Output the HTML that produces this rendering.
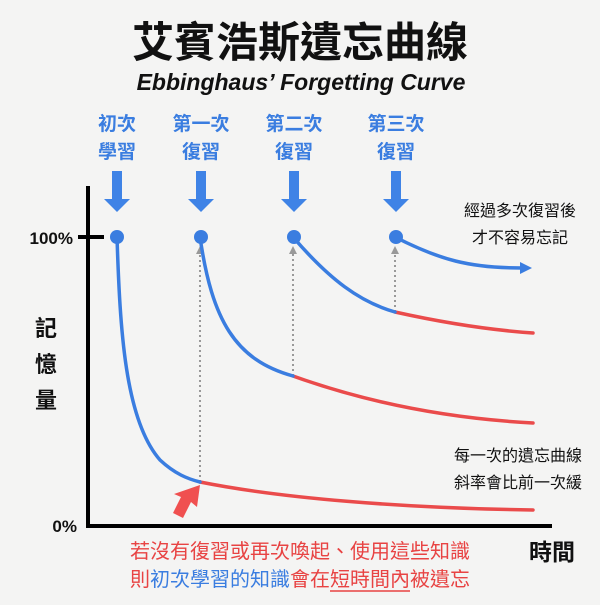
<!DOCTYPE html><html><head><meta charset="utf-8"><style>
body{margin:0;width:600px;height:600px;background:#f4f4f3;overflow:hidden;font-family:"Liberation Sans","Noto Sans CJK TC",sans-serif}
</style></head><body>
<svg width="600" height="600" xmlns="http://www.w3.org/2000/svg" font-family="Liberation Sans, Noto Sans CJK TC, sans-serif">
<rect width="600" height="600" fill="#f4f4f3"/>
<text x="300" y="57" text-anchor="middle" font-size="42" font-weight="bold" fill="#111">艾賓浩斯遺忘曲線</text>
<text x="301" y="90" text-anchor="middle" font-size="23" font-weight="bold" font-style="italic" fill="#111">Ebbinghaus’ Forgetting Curve</text>
<g fill="#3a7de0" font-size="19" font-weight="bold" text-anchor="middle">
<text x="117" y="130">初次</text><text x="117" y="158">學習</text>
<text x="201" y="130">第一次</text><text x="201" y="158">復習</text>
<text x="294" y="130">第二次</text><text x="294" y="158">復習</text>
<text x="396" y="130">第三次</text><text x="396" y="158">復習</text>
</g>
<g fill="#3f83e6">
<path d="M112 171h10v28h8l-13 13-13-13h8z"/>
<path d="M196 171h10v28h8l-13 13-13-13h8z"/>
<path d="M289 171h10v28h8l-13 13-13-13h8z"/>
<path d="M391 171h10v28h8l-13 13-13-13h8z"/>
</g>
<line x1="88" y1="186" x2="88" y2="528" stroke="#000" stroke-width="4"/>
<line x1="86" y1="526" x2="552" y2="526" stroke="#000" stroke-width="4"/>
<line x1="78" y1="237" x2="104" y2="237" stroke="#000" stroke-width="4"/>
<text x="73" y="244" text-anchor="end" font-size="17" font-weight="bold" fill="#111">100%</text>
<text x="77" y="532" text-anchor="end" font-size="17" font-weight="bold" fill="#111">0%</text>
<g font-size="22" font-weight="bold" fill="#111" text-anchor="middle"><text x="46" y="336">記</text><text x="46" y="372">憶</text><text x="46" y="408">量</text></g>
<text x="552" y="560" text-anchor="middle" font-size="23" font-weight="bold" fill="#111">時間</text>
<g stroke="#999" stroke-width="2" stroke-dasharray="2,3">
<line x1="200" y1="482" x2="200" y2="252"/><line x1="293" y1="376" x2="293" y2="252"/><line x1="395" y1="312" x2="395" y2="252"/>
</g>
<g fill="#999"><path d="M196 254l4-8 4 8z"/><path d="M289 254l4-8 4 8z"/><path d="M391 254l4-8 4 8z"/></g>
<g fill="none" stroke-width="3.5" stroke-linecap="round">
<path d="M200 482 C280 498 400 508 533 510" stroke="#ea4b4b"/>
<path d="M293 376 C360 400 440 418 533 423" stroke="#ea4b4b"/>
<path d="M395 312 C440 322 490 330 533 333" stroke="#ea4b4b"/>
<path d="M117 237 C120 330 125 420 160 460 C175 474 188 479 200 482" stroke="#3a7de0"/>
<path d="M200 237 C212 320 235 360 293 376" stroke="#3a7de0"/>
<path d="M293 237 C330 280 360 302 395 312" stroke="#3a7de0"/>
<path d="M395 237 C440 260 470 268 522 268" stroke="#3a7de0"/>
</g>
<path d="M520 262l12 6-12 6z" fill="#3a7de0"/>
<g fill="#3a7de0"><circle cx="117" cy="237" r="7"/><circle cx="201" cy="237" r="7"/><circle cx="294" cy="237" r="7"/><circle cx="396" cy="237" r="7"/></g>
<path d="M200 485l-3 22-6-5-8 16-10-5 8-16-7-3z" fill="#f05050"/>
<g font-size="16" fill="#111" text-anchor="middle">
<text x="520" y="216">經過多次復習後</text><text x="520" y="243">才不容易忘記</text>
<text x="518" y="461">每一次的遺忘曲線</text><text x="518" y="488">斜率會比前一次緩</text>
</g>
<g font-size="20" text-anchor="middle">
<text x="300" y="558" fill="#e84343">若沒有復習或再次喚起、使用這些知識</text>
<text x="300" y="586"><tspan fill="#e84343">則</tspan><tspan fill="#3a7de0">初次學習的知識</tspan><tspan fill="#e84343">會在短時間內被遺忘</tspan></text>
</g>
<line x1="330" y1="591" x2="410" y2="591" stroke="#e84343" stroke-width="1.5"/>
</svg>
</body></html>
